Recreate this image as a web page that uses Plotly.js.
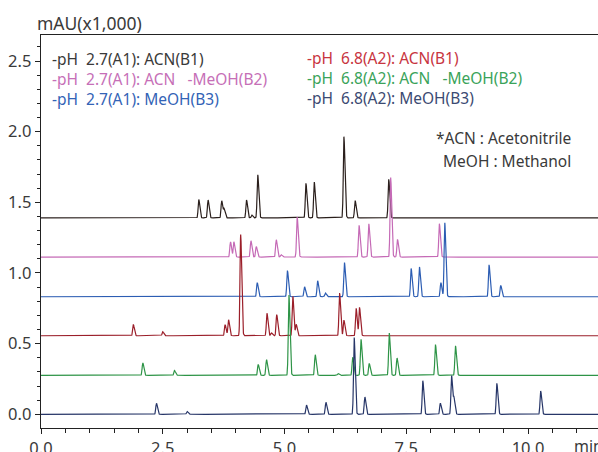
<!DOCTYPE html>
<html>
<head>
<meta charset="utf-8">
<script src="https://cdn.plot.ly/plotly-3.0.1.min.js"></script>
<style>html,body{margin:0;padding:0;background:#fff;}#chart{width:598px;height:452px;}</style>
</head>
<body>
<div id="chart"></div>
<script>
// ---- Data (retention time in min, peak height in mAU x1000) ----
const seriesNames = [
  "-pH 2.7(A1): ACN(B1)",
  "-pH 2.7(A1): ACN -MeOH(B2)",
  "-pH 2.7(A1): MeOH(B3)",
  "-pH 6.8(A2): ACN(B1)",
  "-pH 6.8(A2): ACN -MeOH(B2)",
  "-pH 6.8(A2): MeOH(B3)"
];
const baselines = [1.39, 1.113, 0.832, 0.556, 0.276, 0.0];

const peaksA1B1_t = [0.75, 1.05, 3.24, 3.43, 3.71, 3.76, 4.22, 4.33, 4.45, 5.44, 5.61, 6.22, 6.45, 7.14];
const peaksA1B1_h = [0.004, 0.004, 0.13, 0.127, 0.122, 0.06, 0.127, 0.02, 0.306, 0.245, 0.255, 0.575, 0.123, 0.273];

const peaksA1B2_t = [0.75, 1.05, 3.89, 3.96, 4.31, 4.42, 4.83, 4.93, 5.26, 6.53, 6.73, 7.18, 7.32, 8.18];
const peaksA1B2_h = [0.004, 0.004, 0.108, 0.108, 0.116, 0.074, 0.123, 0.017, 0.283, 0.226, 0.236, 0.562, 0.125, 0.236];

const peaksA1B3_t = [0.75, 1.05, 4.44, 5.06, 5.41, 5.68, 5.84, 6.23, 7.60, 7.77, 8.21, 8.29, 9.20, 9.44];
const peaksA1B3_h = [0.004, 0.004, 0.1, 0.185, 0.071, 0.113, 0.026, 0.243, 0.2, 0.212, 0.1, 0.526, 0.226, 0.08];

const peaksA2B1_t = [0.75, 1.05, 1.895, 2.50, 3.78, 3.85, 4.10, 4.64, 4.73, 4.84, 5.17, 5.24, 6.13, 6.22, 6.47, 6.54];
const peaksA2B1_h = [0.004, 0.004, 0.08, 0.028, 0.078, 0.113, 0.716, 0.159, 0.02, 0.15, 0.281, 0.08, 0.304, 0.11, 0.195, 0.2];

const peaksA2B2_t = [0.75, 1.05, 2.09, 2.74, 4.46, 4.63, 5.09, 5.63, 6.10, 6.40, 6.57, 6.74, 7.15, 7.31, 8.10, 8.51];
const peaksA2B2_h = [0.004, 0.004, 0.088, 0.033, 0.076, 0.111, 0.57, 0.146, 0.012, 0.128, 0.256, 0.083, 0.3, 0.123, 0.217, 0.21];

const peaksA2B3_t = [0.75, 1.05, 2.37, 3.00, 5.45, 5.85, 6.43, 6.65, 7.84, 8.20, 8.43, 8.48, 9.36, 10.26];
const peaksA2B3_h = [0.004, 0.004, 0.078, 0.02, 0.066, 0.085, 0.545, 0.123, 0.238, 0.078, 0.275, 0.11, 0.219, 0.165];

const lineColors = ["#2a1f1c", "#c56ab6", "#2c5db3", "#9b1f2a", "#2e9447", "#273668"];
const textColors = ["#3a3a3a", "#c66fb7", "#3363b6", "#c8353f", "#3aa35a", "#3b4a72"];

const tickVals = [0.0, 2.5, 5.0, 7.5, 10.0];
const yTickVals = [0.0, 0.5, 1.0, 1.5, 2.0, 2.5];

// ---- Build chromatogram curves from the peak tables ----
const peakSets = [
  [peaksA1B1_t, peaksA1B1_h], [peaksA1B2_t, peaksA1B2_h], [peaksA1B3_t, peaksA1B3_h],
  [peaksA2B1_t, peaksA2B1_h], [peaksA2B2_t, peaksA2B2_h], [peaksA2B3_t, peaksA2B3_h]
];
const tMax = 11.5, step = 0.004;
const sigL = 0.013, sigR = 0.021;
function curve(ts, hs, base) {
  const xs = [], ys = [];
  for (let t = 0; t <= tMax + 1e-9; t += step) {
    let v = base;
    for (let i = 0; i < ts.length; i++) {
      const d = t - ts[i];
      const s = d < 0 ? sigL : sigR;
      if (Math.abs(d) < 8 * s) v += hs[i] * Math.exp(-0.5 * (d / s) * (d / s));
    }
    xs.push(+t.toFixed(4)); ys.push(v);
  }
  return {x: xs, y: ys};
}
const traces = peakSets.map((p, i) => {
  const c = curve(p[0], p[1], baselines[i]);
  return {x: c.x, y: c.y, type: 'scatter', mode: 'lines', name: seriesNames[i],
          line: {color: lineColors[i], width: 1.2}, hoverinfo: 'skip'};
});

// ---- Layout ----
const L = 41, R = 0, T = 35, B = 24, W = 598, H = 452;
const pw = W - L - R, ph = H - T - B;
const px = v => (v - L) / pw;
const py = v => (H - B - v) / ph;
const fam = "Noto Sans, Open Sans, sans-serif";

const legendTexts = [
  "-pH\u00a0\u00a02.7(A1):\u00a0ACN(B1)",
  "-pH\u00a0\u00a02.7(A1):\u00a0ACN\u00a0\u00a0\u00a0-MeOH(B2)",
  "-pH\u00a0\u00a02.7(A1):\u00a0MeOH(B3)",
  "-pH\u00a0\u00a06.8(A2):\u00a0ACN(B1)",
  "-pH\u00a0\u00a06.8(A2):\u00a0ACN\u00a0\u00a0\u00a0-MeOH(B2)",
  "-pH\u00a0\u00a06.8(A2):\u00a0MeOH(B3)"
];
const legPos = [[50, 59], [50, 79], [50, 99], [305, 58], [305, 78], [305, 98]];
const annotations = legendTexts.map((t, i) => ({
  text: t, xref: 'paper', yref: 'paper', x: px(legPos[i][0]), y: py(legPos[i][1]),
  xanchor: 'left', yanchor: 'middle', showarrow: false,
  font: {family: fam, size: 15.5, color: textColors[i]}
}));
annotations.push({text: "*ACN\u00a0:\u00a0Acetonitrile", xref: 'paper', yref: 'paper', x: px(573), y: py(138),
  xanchor: 'right', yanchor: 'middle', showarrow: false, font: {family: fam, size: 15.5, color: '#3a3a3a'}});
annotations.push({text: "MeOH\u00a0:\u00a0Methanol", xref: 'paper', yref: 'paper', x: px(573), y: py(161),
  xanchor: 'right', yanchor: 'middle', showarrow: false, font: {family: fam, size: 15.5, color: '#3a3a3a'}});
annotations.push({text: "mAU(x1,000)", xref: 'paper', yref: 'paper', x: px(35), y: py(23),
  xanchor: 'left', yanchor: 'middle', showarrow: false, font: {family: fam, size: 17.5, color: '#3a3a3a'}});
annotations.push({text: "min", xref: 'paper', yref: 'paper', x: px(572), y: py(446),
  xanchor: 'left', yanchor: 'middle', showarrow: false, font: {family: fam, size: 16, color: '#3a3a3a'}});

const layout = {
  width: W, height: H,
  margin: {l: L, r: R, t: T, b: B, pad: 0},
  paper_bgcolor: '#ffffff', plot_bgcolor: '#ffffff',
  showlegend: false,
  xaxis: {
    range: [0, pw / 48.7], showgrid: false, zeroline: false,
    showline: true, linecolor: '#222', linewidth: 1.3, mirror: true,
    ticks: 'outside', ticklen: 5, tickcolor: '#222', tickwidth: 1,
    tickvals: tickVals, tickformat: '.1f',
    tickfont: {family: fam, size: 16.5, color: '#3a3a3a'},
    minor: {dtick: 0.5, ticks: 'outside', ticklen: 4, tickcolor: '#222', showgrid: false}
  },
  yaxis: {
    range: [-0.097, -0.097 + ph / 141.3], showgrid: false, zeroline: false,
    showline: true, linecolor: '#222', linewidth: 1.3,
    ticks: 'outside', ticklen: 5, tickcolor: '#222', tickwidth: 1,
    tickvals: yTickVals, tickformat: '.1f',
    tickfont: {family: fam, size: 16.5, color: '#3a3a3a'},
    minor: {dtick: 0.1, ticks: 'outside', ticklen: 3, tickcolor: '#222', showgrid: false}
  },
  annotations: annotations
};
Plotly.newPlot('chart', traces, layout, {displayModeBar: false, staticPlot: true});
</script>
</body>
</html>
